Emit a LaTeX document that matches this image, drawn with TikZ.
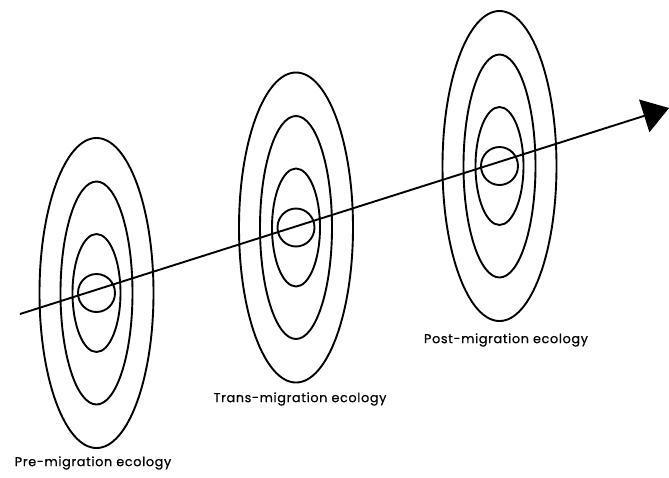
\documentclass[tikz,border=0pt]{standalone}
\usepackage{fontspec}
\setmainfont{Poppins}[LetterSpace=5, FakeBold=0.6]
\usetikzlibrary{arrows.meta}

\begin{document}
\begin{tikzpicture}[x=1pt, y=-1pt,
      ring/.style={draw, line width=1.9pt},
      axisline/.style={line width=1.9pt, -{Triangle[length=26pt, width=34pt]}},
      stagelabel/.style={font=\fontsize{12.8}{14}\selectfont, inner sep=0pt}
    ]
    \useasboundingbox (0,0) rectangle (669,477);

    % Stages: centre, label position, label text
    \foreach \cx/\cy/\lx/\ly/\name/\txt in {
        96.5/293/93/463/pre/Pre-migration ecology,
        296/227.5/300/399/trans/Trans-migration ecology,
        499.5/166/506/340/post/Post-migration ecology} {
      \draw[ring] (\cx,\cy) ellipse [x radius=57, y radius=155];
      \draw[ring] (\cx,\cy) ellipse [x radius=36, y radius=111.5];
      \draw[ring] (\cx,\cy) ellipse [x radius=24, y radius=59];
      \draw[ring] (\cx,\cy) ellipse [x radius=18.5, y radius=19];
      \node[stagelabel] (\name) at (\lx,\ly) {\txt};
    }

    % Migration axis
    \coordinate (start) at (20,314);
    \coordinate (finish) at (669,108);
    \draw[axisline] (start) -- (finish);
  \end{tikzpicture}
\end{document}
